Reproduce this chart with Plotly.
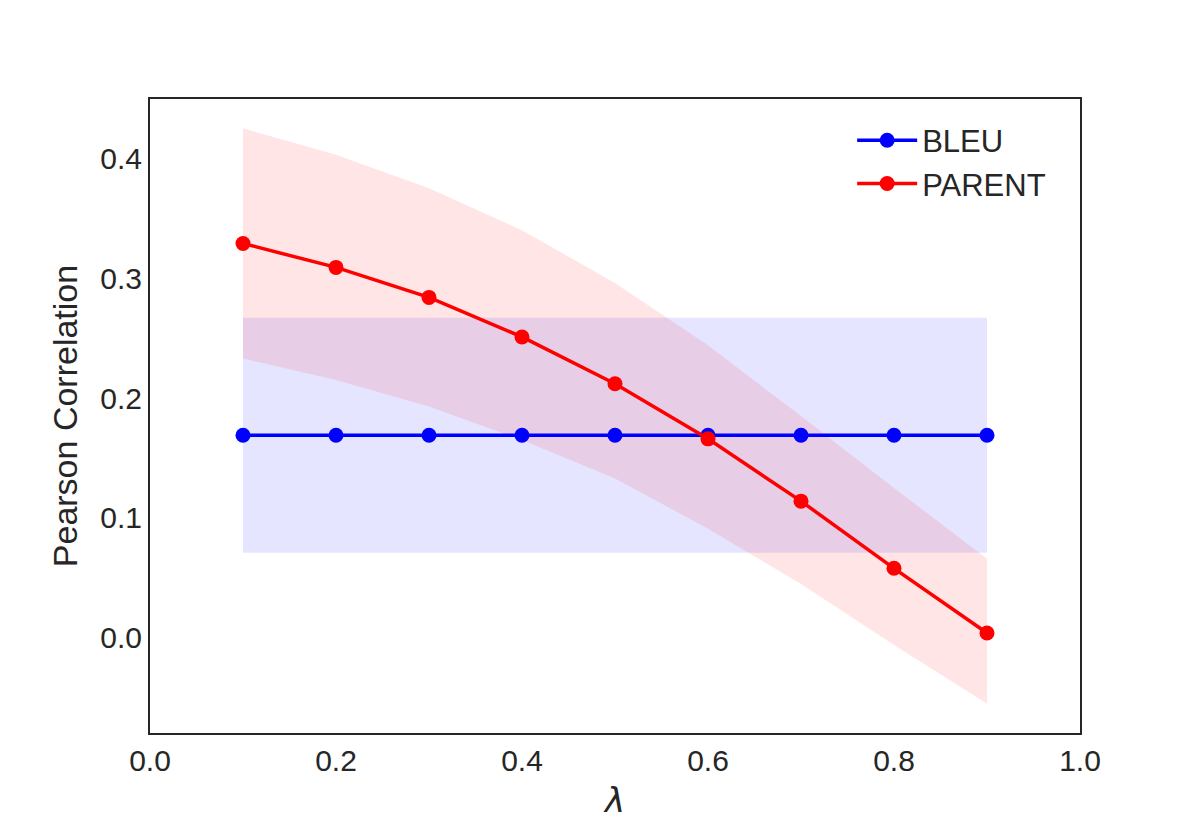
import plotly.graph_objects as go

lam = [0.1, 0.2, 0.3, 0.4, 0.5, 0.6, 0.7, 0.8, 0.9]
bleu = [0.169, 0.169, 0.169, 0.169, 0.169, 0.169, 0.169, 0.169, 0.169]
bleu_lo = [0.071, 0.071, 0.071, 0.071, 0.071, 0.071, 0.071, 0.071, 0.071]
bleu_hi = [0.267, 0.267, 0.267, 0.267, 0.267, 0.267, 0.267, 0.267, 0.267]
parent = [0.329, 0.309, 0.284, 0.251, 0.212, 0.166, 0.114, 0.058, 0.004]
parent_hi = [0.425, 0.403, 0.375, 0.340, 0.296, 0.244, 0.185, 0.125, 0.066]
parent_lo = [0.233, 0.215, 0.193, 0.165, 0.133, 0.091, 0.045, -0.006, -0.055]

FONT = "Liberation Sans, Arial, sans-serif"
TXT = "#262626"

fig = go.Figure()

# bands
fig.add_trace(go.Scatter(x=lam, y=bleu_lo, mode="lines", line=dict(width=0),
                         showlegend=False, hoverinfo="skip"))
fig.add_trace(go.Scatter(x=lam, y=bleu_hi, mode="lines", line=dict(width=0),
                         fill="tonexty", fillcolor="rgba(0,0,255,0.1)",
                         showlegend=False, hoverinfo="skip"))
fig.add_trace(go.Scatter(x=lam, y=parent_lo, mode="lines", line=dict(width=0),
                         showlegend=False, hoverinfo="skip"))
fig.add_trace(go.Scatter(x=lam, y=parent_hi, mode="lines", line=dict(width=0),
                         fill="tonexty", fillcolor="rgba(255,0,0,0.1)",
                         showlegend=False, hoverinfo="skip"))

fig.add_trace(go.Scatter(x=lam, y=bleu, mode="lines+markers", name="BLEU",
                         line=dict(color="#0000ff", width=3.5),
                         marker=dict(color="#0000ff", size=15)))
fig.add_trace(go.Scatter(x=lam, y=parent, mode="lines+markers", name="PARENT",
                         line=dict(color="#ff0000", width=3.5),
                         marker=dict(color="#ff0000", size=15)))

fig.update_layout(
    width=1200, height=825,
    margin=dict(l=150, r=120, t=99, b=92),
    paper_bgcolor="white", plot_bgcolor="white",
    font=dict(family=FONT, color=TXT, size=30),
    showlegend=True,
    legend=dict(x=0.755, y=0.977, xanchor="left", yanchor="top",
                traceorder="normal",
                bgcolor="rgba(0,0,0,0)", font=dict(size=31, color=TXT),
                itemwidth=60, tracegroupgap=0),
    xaxis=dict(range=[0, 1], tickvals=[0, 0.2, 0.4, 0.6, 0.8, 1.0],
               ticktext=["0.0", "0.2", "0.4", "0.6", "0.8", "1.0"],
               showgrid=False, zeroline=False, showline=True, mirror=True,
               linecolor=TXT, linewidth=2, ticks="", ticklen=0,
               tickfont=dict(size=30), title=dict(text="<i>λ</i>",
               font=dict(size=34, family="DejaVu Sans"), standoff=12)),
    yaxis=dict(range=[-0.0794, 0.4495], tickvals=[0, 0.1, 0.2, 0.3, 0.4],
               ticktext=["0.0", "0.1", "0.2", "0.3", "0.4"],
               showgrid=False, zeroline=False, showline=True, mirror=True,
               linecolor=TXT, linewidth=2, ticks="", ticklen=0,
               tickfont=dict(size=30),
               title=dict(text="Pearson Correlation", font=dict(size=34), standoff=12)),
)

fig.write_html("out.html")
